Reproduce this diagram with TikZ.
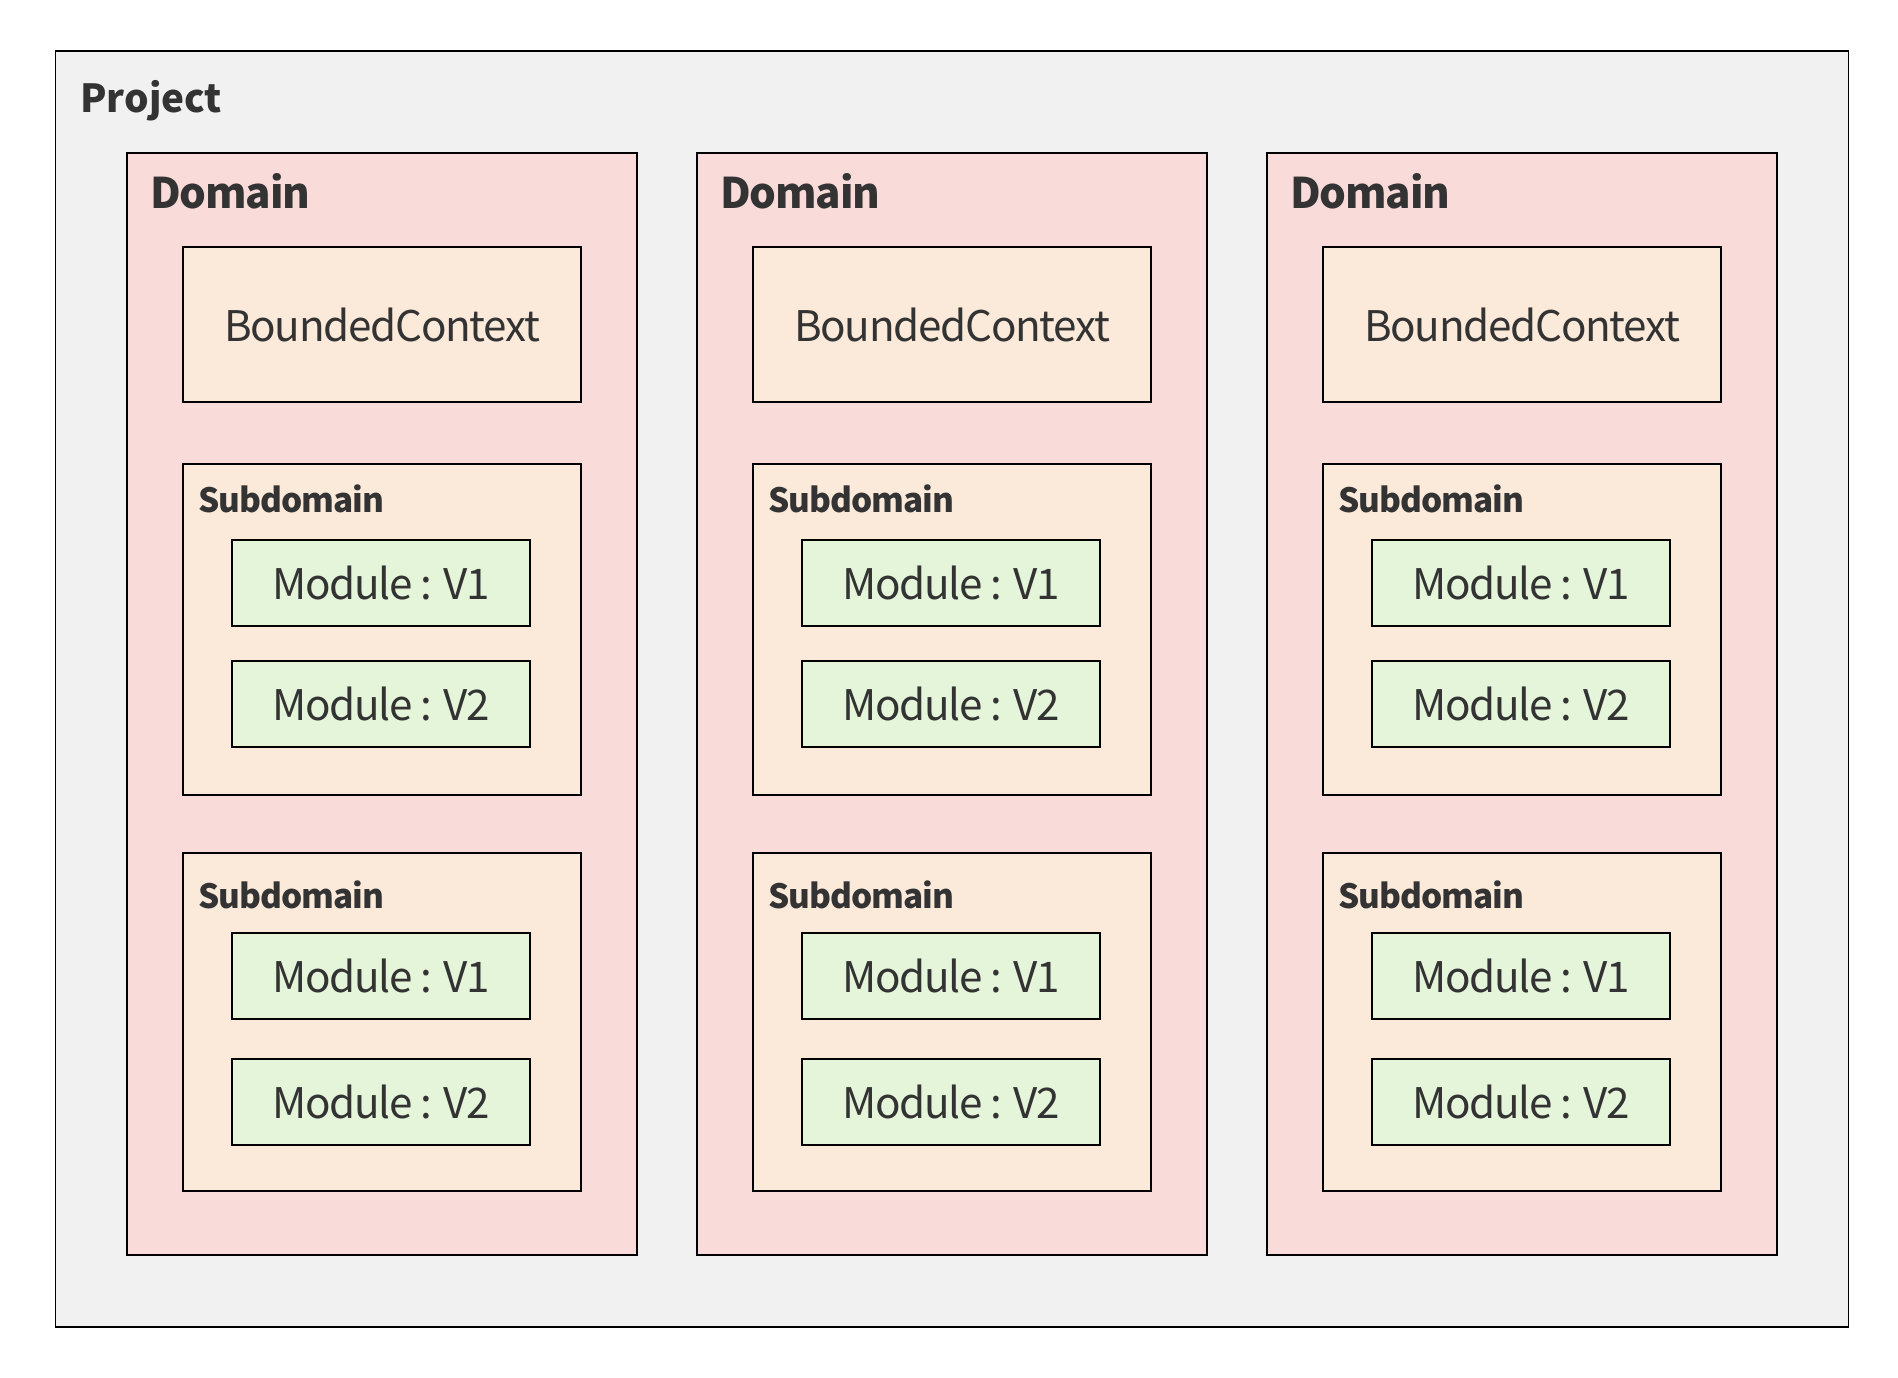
\documentclass[tikz,border=0pt]{standalone}
\usepackage{fontspec}
\setmainfont{Noto Sans CJK SC}
\newfontfamily\tightfont[LetterSpace=-3]{Noto Sans CJK SC}
\definecolor{projfill}{HTML}{F1F1F1}
\definecolor{domfill}{HTML}{F9DBDA}
\definecolor{subfill}{HTML}{FBE9DA}
\definecolor{modfill}{HTML}{E4F5DA}
\definecolor{inkgray}{HTML}{333333}
\tikzset{
  box/.style={draw=black, line width=0.9pt, inner sep=0pt, text=inkgray},
  boxtext/.style={font=\tightfont\fontsize{24}{28}\selectfont},
  boxlabel/.style={anchor=west, inner sep=0pt, text=inkgray}
}
\begin{document}
\begin{tikzpicture}[x=0.02cm, y=-0.02cm]
  \fill [white] (0,0) rectangle (1898,1378);
  \node [box, fill=projfill, minimum width=35.86cm, minimum height=25.52cm] (project) at (952,689) {};
  \node [boxlabel, font=\bfseries\fontsize{22}{26}\selectfont] (projectlabel) at (80,101) {Project};
  \foreach \i/\cx in {1/382, 2/952, 3/1522} {
    \node [box, fill=domfill, minimum width=10.2cm, minimum height=22.05cm] (domain\i) at (\cx,704) {};
    \node [boxlabel, font=\tightfont\bfseries\fontsize{24}{28}\selectfont] (domainlabel\i) at (\cx-232,191) {Domain};
    \node [box, boxtext, fill=subfill, minimum width=7.96cm, minimum height=3.1cm] (bc\i) at (\cx,324.5) {BoundedContext};
    \foreach \s/\sy/\sh/\ly/\ma/\mb in {a/629.5/6.62cm/499/583/704, b/1022/6.76cm/895/976/1102} {
      \node [box, fill=subfill, minimum width=7.96cm, minimum height=\sh] (sub\i\s) at (\cx,\sy) {};
      \node [boxlabel, font=\tightfont\bfseries\fontsize{19}{23}\selectfont] (sublabel\i\s) at (\cx-184,\ly) {Subdomain};
      \node [box, boxtext, fill=modfill, minimum width=5.96cm, minimum height=1.72cm] (mod\i\s1) at (\cx-1,\ma) {Module : V1};
      \node [box, boxtext, fill=modfill, minimum width=5.96cm, minimum height=1.72cm] (mod\i\s2) at (\cx-1,\mb) {Module : V2};
    }
  }
\end{tikzpicture}
\end{document}
